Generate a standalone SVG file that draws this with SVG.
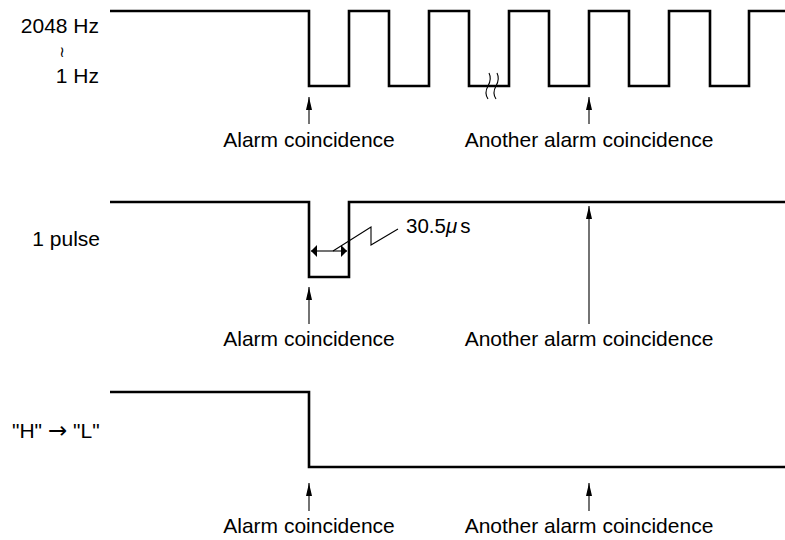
<svg xmlns="http://www.w3.org/2000/svg" width="785" height="540" viewBox="0 0 785 540">
<style>
  .wave{fill:none;stroke:#000;stroke-width:2.6;stroke-linejoin:miter;stroke-linecap:butt}
  .thin{fill:none;stroke:#000;stroke-width:1.1}
  .lbl{font-family:"Liberation Sans",Arial,sans-serif;font-size:21px;fill:#000}
  .mid{text-anchor:middle}
  .end{text-anchor:end}
  .sym{font-family:"DejaVu Sans",sans-serif}
</style>
<defs>
  <marker id="ah" viewBox="0 0 10 10" refX="10" refY="5" markerWidth="6" markerHeight="12" markerUnits="userSpaceOnUse" orient="auto-start-reverse" preserveAspectRatio="none">
    <path d="M0,0 L10,5 L0,10 Z" fill="#000"/>
  </marker>
  <marker id="up" viewBox="0 0 12 6" refX="12" refY="3" markerWidth="13" markerHeight="6" markerUnits="userSpaceOnUse" orient="auto" preserveAspectRatio="none">
    <path d="M0,0 L12,3 L0,6 Z" fill="#000"/>
  </marker>
</defs>
<rect width="785" height="540" fill="#fff"/>

<g id="signal-1">
  <path class="wave" d="M110,11 H309 V86 H349 V11 H389 V86 H429 V11 H469 V86 H509 V11 H549 V86 H589 V11 H629 V86 H669 V11 H710 V86 H749 V11 H785"/>
  <path class="thin" d="M489,73 Q492,79 488,86 Q484,93 488,99"/>
  <path class="thin" d="M497,73 Q500,79 496,86 Q492,93 496,99"/>
  <text class="lbl end" x="99" y="33">2048 Hz</text>
  <text class="sym" x="62" y="57" text-anchor="middle" style="font-size:15px" fill="#000">≀</text>
  <text class="lbl end" x="99" y="83">1 Hz</text>
</g>

<g id="signal-2">
  <path class="wave" d="M110,202 H309 V277 H349 V202 H785"/>
  <text class="lbl end" x="100" y="246">1 pulse</text>
  <text class="lbl" x="406" y="233" style="font-size:20.5px">30.5<tspan font-style="italic">μ</tspan><tspan dx="3">s</tspan></text>
</g>

<g id="signal-3">
  <path class="wave" d="M110,392 H309 V467 H785"/>
  <text class="lbl" x="12" y="438">"H" <tspan class="sym" style="font-size:23px">→</tspan> "L"</text>
</g>

<g id="labels">
  <text class="lbl mid" x="309" y="147">Alarm coincidence</text>
  <text class="lbl mid" x="589" y="147">Another alarm coincidence</text>
  <text class="lbl mid" x="309" y="346">Alarm coincidence</text>
  <text class="lbl mid" x="589" y="346">Another alarm coincidence</text>
  <text class="lbl mid" x="309" y="533">Alarm coincidence</text>
  <text class="lbl mid" x="589" y="533">Another alarm coincidence</text>
</g>

<g id="connectors">
  <line class="thin" x1="309" y1="124" x2="309" y2="97" marker-end="url(#up)"/>
  <line class="thin" x1="589" y1="124" x2="589" y2="97" marker-end="url(#up)"/>
  <line class="thin" x1="309" y1="324" x2="309" y2="287" marker-end="url(#up)"/>
  <line class="thin" x1="589" y1="324" x2="589" y2="206" marker-end="url(#up)"/>
  <line class="thin" x1="309" y1="511" x2="309" y2="483" marker-end="url(#up)"/>
  <line class="thin" x1="589" y1="511" x2="589" y2="483" marker-end="url(#up)"/>
  <line class="thin" x1="329" y1="251" x2="311" y2="251" marker-end="url(#ah)"/>
  <line class="thin" x1="329" y1="251" x2="347" y2="251" marker-end="url(#ah)"/>
  <polyline class="thin" points="333,251 371,227 371,245 398,229"/>
</g>
</svg>
